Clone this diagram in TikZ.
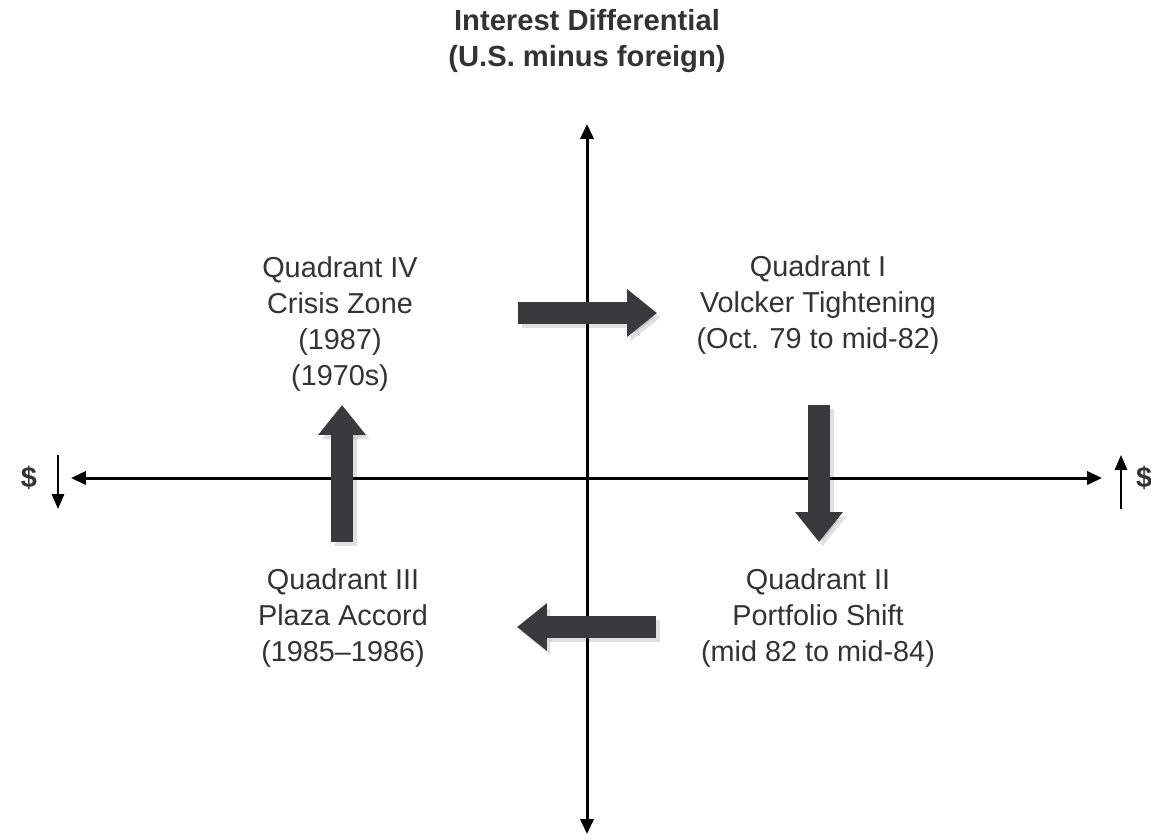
\documentclass[tikz,border=0pt]{standalone}
\usepackage{fontspec}
\setmainfont{Liberation Sans}
\usetikzlibrary{positioning,arrows.meta}
\definecolor{txtgray}{HTML}{333333}
\definecolor{shiftgray}{HTML}{3A393C}

\tikzset{
	axis/.style={line width=1.7pt, {Triangle[width=7.5pt,length=8.5pt]}-{Triangle[width=7.5pt,length=8.5pt]}},
	dollar/.style={line width=1.2pt, -{Triangle[width=7pt,length=8.5pt]}},
	shiftarrow/.style={line width=12.5pt, color=shiftgray, -{Triangle[width=26pt,length=17pt]}},
	shadowarrow/.style={shiftarrow, color=black, opacity=0.12},
	quad/.style={align=center, text=txtgray}
}

\begin{document}
\begin{tikzpicture}[x=0.02cm,y=-0.02cm,font=\fontsize{16.4}{20.6}\selectfont]
	\useasboundingbox (0,0) rectangle (1151,839);

		\coordinate (top) at (587,124);
		\coordinate (bot) at (587,834);
		\coordinate (lft) at (71,478);
		\coordinate (rgt) at (1102,478);

		\node(title) [font=\fontsize{16.6}{21}\selectfont\bfseries, align=center, text=txtgray] at (587,41)
			{Interest Differential\\(U.S. minus foreign)};

		\node(q_4) [quad] at (340,324) {Quadrant IV\\Crisis Zone\\(1987)\\(1970s)};
		\node(q_1) [quad] at (818,305) {Quadrant I\\Volcker Tightening\\(Oct. 79 to mid-82)};
		\node(q_3) [quad] at (343,618) {Quadrant III\\Plaza Accord\\(1985--1986)};
		\node(q_2) [quad] at (818,618) {Quadrant II\\Portfolio Shift\\(mid 82 to mid-84)};

		\draw[axis] (bot) -- (top);
		\draw[axis] (lft) -- (rgt);

		% dollar down / dollar up
		\node(d_l) [font=\fontsize{16.4}{20.6}\selectfont\bfseries, text=txtgray] at (29,478) {\$};
		\node(d_r) [font=\fontsize{16.4}{20.6}\selectfont\bfseries, text=txtgray] at (1144,478) {\$};
		\coordinate (dl_a) at (58,455);
		\coordinate (dl_b) at (58,509);
		\coordinate (dr_a) at (1121,509);
		\coordinate (dr_b) at (1121,455);
		\draw[dollar] (dl_a) -- (dl_b);
		\draw[dollar] (dr_a) -- (dr_b);

		% the shifts between quadrants
		\coordinate (s1_a) at (518,313);
		\coordinate (s1_b) at (657,313);
		\coordinate (s2_a) at (819,405);
		\coordinate (s2_b) at (819,542);
		\coordinate (s3_a) at (656,627);
		\coordinate (s3_b) at (517,627);
		\coordinate (s4_a) at (342,542);
		\coordinate (s4_b) at (342,405);

		\draw[shadowarrow, transform canvas={shift={(2pt,-2.5pt)}}] (s1_a) -- (s1_b);
		\draw[shadowarrow, transform canvas={shift={(2pt,-2.5pt)}}] (s2_a) -- (s2_b);
		\draw[shadowarrow, transform canvas={shift={(2pt,-2.5pt)}}] (s3_a) -- (s3_b);
		\draw[shadowarrow, transform canvas={shift={(2pt,-2.5pt)}}] (s4_a) -- (s4_b);

		\draw[shiftarrow] (s1_a) -- (s1_b);
		\draw[shiftarrow] (s2_a) -- (s2_b);
		\draw[shiftarrow] (s3_a) -- (s3_b);
		\draw[shiftarrow] (s4_a) -- (s4_b);
	\end{tikzpicture}
\end{document}
